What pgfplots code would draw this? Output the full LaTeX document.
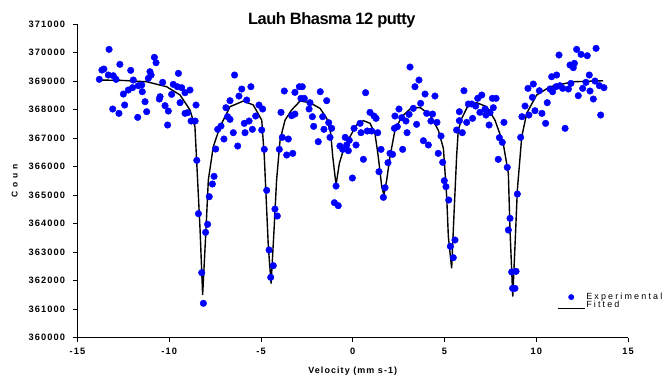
\documentclass[border=0pt]{standalone}
\usepackage{pgfplots}
\pgfplotsset{compat=1.18}
\usepackage{fontspec}
\setmainfont{Liberation Sans}
\begin{document}
\begin{tikzpicture}
\path[use as bounding box] (-77.5bp,-40.3bp) rectangle (588.5bp,337.7bp);
\begin{axis}[
  at={(0,0)}, anchor=south west,
  scale only axis, width=550.5bp, height=313.7bp,
  xmin=-15, xmax=15, ymin=360000, ymax=371000,
  axis x line=bottom, axis y line=left,
  axis line style={-, line width=1.1pt},
  tick align=outside, major tick length=4bp,
  tick style={line width=0.8pt, black},
  xtick={-15,-10,-5,0,5,10,15},
  xticklabels={-15,-10,-5,0,5,10,15},
  ytick={360000,361000,362000,363000,364000,365000,366000,367000,368000,369000,370000,371000},
  yticklabels={360000,361000,362000,363000,364000,365000,366000,367000,368000,369000,370000,371000},
  /pgf/number format/assume math mode=true,
  scaled ticks=false,
  ticklabel style={font=\fontsize{9.3}{10}\selectfont\bfseries\addfontfeatures{LetterSpace=12}},
  xticklabel style={yshift=-3bp},
  yticklabel style={xshift=-5bp},
  xlabel={Velocity (mm s-1)},
  xlabel style={font=\fontsize{9}{10}\selectfont\bfseries\addfontfeatures{LetterSpace=12}, yshift=-5bp},
  ylabel={C o u n},
  ylabel style={font=\fontsize{8.5}{10}\selectfont\bfseries\addfontfeatures{LetterSpace=20}, yshift=4bp},
  title={Lauh Bhasma 12 putty},
  title style={at={(0.462,1)}, anchor=base, yshift=-6bp, font=\fontsize{16.5}{18}\selectfont\bfseries\addfontfeatures{LetterSpace=-3}},
  legend style={at={(0.871,0.146)}, anchor=north west, draw=none, fill=none, inner sep=0pt,
    font=\fontsize{9}{10}\selectfont\addfontfeatures{LetterSpace=24}, row sep=-2bp,
    nodes={inner sep=1bp}},
  legend cell align=left,
]
\addplot[only marks, mark=*, mark size=3.3bp, color=blue, mark options={fill=blue, draw=blue},
  legend image code/.code={\fill[blue] (13.5bp,0bp) circle (2.7bp);}] table {
x y
-13.28 370110
-10.81 369830
-10.72 369643
-12.69 369585
-13.56 369421
-13.67 369386
-12.10 369374
-11.05 369327
-9.50 369269
-13.32 369211
-13.05 369187
-10.99 369211
-13.81 369059
-12.90 369059
-11.96 369035
-11.14 369094
-10.36 368954
-9.78 368883
-9.56 368802
-9.32 368767
-8.87 368685
-11.69 368837
-11.50 368860
-12.00 368767
-12.23 368685
-12.50 368544
-11.47 368626
-9.87 368533
-10.50 368451
-10.54 368369
-9.14 368591
-11.32 368275
-9.41 368241
-8.54 368159
-10.23 368136
-10.05 367948
-13.08 368018
-12.74 367867
-12.43 368159
-11.23 367925
-11.72 367726
-9.14 367867
-9.00 367890
-8.81 367598
-8.59 367598
-10.09 367458
-8.50 366219
-8.41 364349
-8.23 362280
-8.14 361205
-8.02 363694
-7.91 363975
-7.82 364945
-7.65 365389
-7.56 365658
-7.47 366616
-7.36 367306
-7.18 367422
-7.02 366967
-6.91 368065
-6.69 368311
-6.69 367656
-6.82 367750
-6.51 367189
-6.44 369211
-6.27 366721
-6.20 368474
-6.05 368720
-5.78 368334
-5.91 367516
-5.65 367598
-5.87 367189
-5.55 368801
-5.47 367306
-5.29 367773
-5.11 368159
-4.91 368019
-4.96 367282
-4.82 366604
-4.69 365167
-4.56 363075
-4.47 362117
-4.33 362526
-4.24 364512
-4.11 364267
-4.00 366604
-3.91 367902
-3.84 367025
-3.51 366967
-3.60 366406
-3.27 366464
-3.73 368650
-3.33 367785
-3.15 367843
-3.15 368603
-2.91 368801
-2.75 368801
-2.82 368392
-2.64 368392
-2.33 368241
-2.38 368019
-1.77 368626
-1.42 368311
-2.20 367750
-1.64 367750
-2.13 367411
-1.57 367306
-1.31 367540
-1.15 367341
-1.24 367025
-1.88 366873
-0.91 365319
-1.00 364735
-0.79 364629
-0.70 366721
-0.55 366604
-0.41 367025
-0.24 366557
-0.19 366920
-0.33 366757
-0.02 365599
0.07 367341
0.18 366757
0.40 367516
0.45 367189
0.58 366254
0.70 368591
0.79 367248
0.94 367902
1.03 367248
1.16 367773
1.27 367691
1.36 367189
1.54 366604
1.43 365821
1.76 365260
1.67 364921
1.92 366137
2.03 366464
2.17 366429
2.27 367341
2.43 367399
2.30 367773
2.52 368019
2.67 367715
2.90 367598
2.96 367189
2.72 366604
3.07 367832
3.12 369491
3.61 369035
3.39 368801
3.94 368544
4.48 368474
3.70 368217
3.30 368042
4.03 367866
4.35 367843
4.26 367598
4.59 367551
3.48 367481
3.85 366908
4.12 366757
4.81 367072
4.66 366464
4.90 366149
4.99 365506
5.08 365295
5.23 364828
5.32 363203
5.48 362806
5.57 363425
5.66 367282
5.97 367189
5.81 367610
5.81 367925
6.06 368661
6.21 367551
6.30 368194
6.48 368194
6.53 367691
6.70 368124
6.81 368393
7.03 368509
6.93 367902
7.21 368019
7.26 367808
7.48 367890
7.66 368065
7.61 368393
7.81 368393
7.43 367458
8.24 367551
7.99 367014
8.15 366850
7.93 366254
8.42 365973
8.57 364185
8.48 363776
8.66 362304
8.71 361731
8.90 362327
8.84 361730
8.97 365038
9.15 367025
9.22 367750
9.39 368124
9.60 367808
9.79 368428
9.93 367960
9.55 368743
9.84 368895
10.17 368661
10.31 367866
10.51 367516
10.60 368241
10.75 368720
10.89 368626
10.84 369152
11.11 369211
11.08 368801
11.29 368837
11.44 368743
11.24 369912
11.57 367341
11.75 368720
11.89 368918
11.84 369561
12.08 369620
12.02 369468
12.20 370110
12.44 369935
12.78 369888
13.26 370146
12.53 368743
12.29 368486
12.89 369211
12.71 368954
13.20 369000
12.93 368650
13.11 368369
13.44 368837
13.69 368767
13.51 367808
};
\addlegendentry{Experimental}
\addplot[black, line width=1.4pt, mark=none,
  legend image code/.code={\draw[black, line width=1.1pt] (0bp,-3.5bp) -- (27bp,-3.5bp);}] table {
x y
-13.77 369035
-12.50 369020
-11.23 368975
-10.14 368800
-9.41 368510
-8.87 367985
-8.60 367400
-8.50 366115
-8.32 363776
-8.18 361497
-8.00 363776
-7.87 365530
-7.60 366700
-7.23 367400
-6.69 368100
-5.96 368300
-5.42 368160
-4.96 367630
-4.82 366350
-4.60 363190
-4.45 361900
-4.29 363776
-4.15 365530
-3.96 366930
-3.69 367630
-3.33 367985
-2.87 368300
-2.33 368240
-1.78 368040
-1.42 367690
-1.20 367165
-1.09 366350
-0.91 365355
-0.73 366115
-0.51 366580
-0.15 367050
0.21 367460
0.58 367610
0.94 367520
1.21 367165
1.39 366350
1.58 365300
1.70 365000
1.85 365530
2.03 366350
2.30 367280
2.67 367750
3.21 368070
3.67 368070
4.21 367810
4.66 367280
4.94 366640
5.12 364945
5.21 363540
5.39 362430
5.52 364360
5.66 366350
5.75 367280
5.94 367690
6.30 368160
6.75 368240
7.30 368100
7.75 367630
8.20 366815
8.48 365760
8.57 363776
8.72 361440
8.84 363190
8.97 365180
9.21 367050
9.48 367870
10.02 368510
10.75 368800
12.02 368975
13.65 369010
};
\addlegendentry{Fitted}
\end{axis}
\end{tikzpicture}
\end{document}
